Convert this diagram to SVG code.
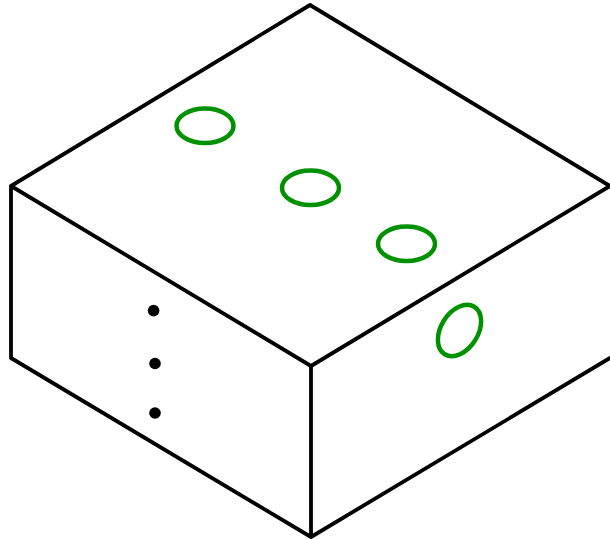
<svg xmlns="http://www.w3.org/2000/svg" width="610" height="539" viewBox="0 0 610 539">
<style>.e{fill:none;stroke:#000;stroke-width:3.800;stroke-linecap:round;stroke-linejoin:round}.g{fill:none;stroke:#009100;stroke-width:4.500}.d{fill:#000}</style>
<rect width="610" height="539" fill="#fff"/>
<g id="box"><path class="e" d="M11 186L310 5L610 186L311 366ZM11 186V358L311 537V366M311 537L610 358"/></g>
<g id="hole1"><ellipse class="g" cx="205" cy="125.800" rx="28.500" ry="17.300"/></g>
<g id="hole2"><ellipse class="g" cx="310.500" cy="187.800" rx="28.500" ry="17.300"/></g>
<g id="hole3"><ellipse class="g" cx="406.500" cy="243.800" rx="28.500" ry="17.300"/></g>
<g id="hole4"><ellipse class="g" cx="459.500" cy="330.500" rx="18.500" ry="28" transform="rotate(32 459.500 330.500)"/></g>
<g id="dot1"><circle class="d" cx="153.600" cy="310.600" r="5.800"/></g>
<g id="dot2"><circle class="d" cx="155" cy="363.500" r="5.800"/></g>
<g id="dot3"><circle class="d" cx="155" cy="413" r="5.800"/></g>
</svg>
